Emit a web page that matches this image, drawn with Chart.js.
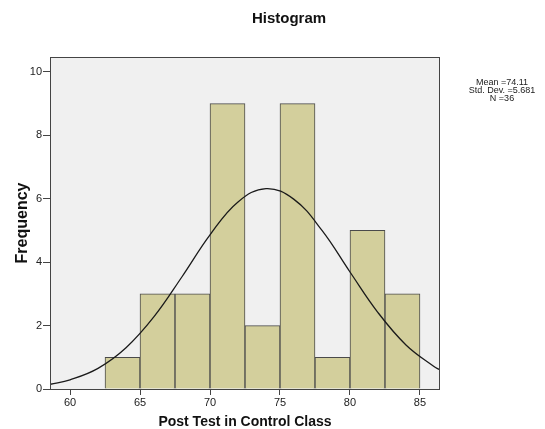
<!DOCTYPE html>
<html><head><meta charset="utf-8">
<script src="https://cdn.jsdelivr.net/npm/chart.js@4"></script>
<style>html,body{margin:0;padding:0;background:#fff}#wrap{width:545px;height:429px}</style>
</head><body><div id="wrap"><canvas id="c" width="545" height="429"></canvas></div>
<script>
const binCenters = [63.75, 66.25, 68.75, 71.25, 73.75, 76.25, 78.75, 81.25, 83.75];
const frequencies = [1, 3, 3, 9, 2, 9, 1, 5, 3];
const curveX = [58.6, 60, 62, 64, 66, 68, 70, 72, 74, 76, 78, 80, 82, 84, 86, 86.4];
const curveY = [0.15, 0.29, 0.65, 1.30, 2.28, 3.54, 4.86, 5.90, 6.32, 5.98, 5.00, 3.69, 2.41, 1.39, 0.71, 0.61];
const xTicks = [60, 65, 70, 75, 80, 85];
const yTicks = [0, 2, 4, 6, 8, 10];
const chartTitle = 'Histogram';
const statsLines = ['Mean =74.11', 'Std. Dev. =5.681', 'N =36'];

const FONT = '"Liberation Sans", Arial, sans-serif';
Chart.defaults.font.family = FONT;
Chart.defaults.color = '#222';

const frame = {
  id: 'frame',
  beforeDraw(chart) {
    const {ctx, chartArea: a} = chart;
    ctx.save();
    ctx.fillStyle = '#F0F0F0';
    ctx.fillRect(a.left, a.top, a.right - a.left, a.bottom - a.top);
    ctx.restore();
  },
  afterDraw(chart) {
    const {ctx, chartArea: a} = chart;
    ctx.save();
    ctx.strokeStyle = '#444';
    ctx.lineWidth = 1;
    ctx.strokeRect(a.left + 0.5, a.top + 0.5, a.right - a.left - 1, a.bottom - a.top);
    ctx.fillStyle = '#111';
    ctx.textAlign = 'center';
    ctx.textBaseline = 'middle';
    ctx.font = 'bold 15px ' + FONT;
    ctx.fillText(chartTitle, 289, 19);
    ctx.fillStyle = '#1a1a1a';
    ctx.font = '9px ' + FONT;
    statsLines.forEach((t, i) => ctx.fillText(t, 502, 83 + i * 8));
    ctx.restore();
  }
};

new Chart(document.getElementById('c'), {
  data: {
    datasets: [
      {
        type: 'line',
        data: curveX.map((x, i) => ({x, y: curveY[i]})),
        borderColor: '#1a1a1a',
        borderWidth: 1.3,
        pointRadius: 0,
        tension: 0.4,
        fill: false,
        order: 0
      },
      {
        type: 'bar',
        data: binCenters.map((x, i) => ({x, y: frequencies[i]})),
        backgroundColor: '#D3CF9C',
        borderColor: '#4a4a4a',
        borderWidth: 1,
        barPercentage: 1,
        categoryPercentage: 1,
        grouped: false,
        order: 1
      }
    ]
  },
  options: {
    responsive: false,
    animation: false,
    layout: {padding: {left: 0, right: 105, top: 57, bottom: 0}},
    plugins: {
      legend: {display: false},
      tooltip: {enabled: false},
      title: {display: false}
    },
    scales: {
      x: {
        type: 'linear', min: 58.57, max: 86.43, offset: false,
        afterBuildTicks: s => { s.ticks = xTicks.map(v => ({value: v})); },
        afterFit: s => { s.height = 40; },
        grid: {display: true, offset: false, drawOnChartArea: false, drawTicks: true, tickLength: 6, color: '#444'},
        border: {display: false},
        ticks: {font: {size: 11}, color: '#222', padding: 1, maxRotation: 0},
        title: {display: true, text: 'Post Test in Control Class', font: {size: 14, weight: 'bold', lineHeight: 1}, color: '#111', padding: {top: 6, bottom: 0}}
      },
      y: {
        type: 'linear', min: 0, max: 10.47,
        afterBuildTicks: s => { s.ticks = yTicks.map(v => ({value: v})); },
        afterFit: s => { s.width = 50; },
        grid: {display: true, drawOnChartArea: false, drawTicks: true, tickLength: 7, color: '#444'},
        border: {display: false},
        ticks: {font: {size: 11}, color: '#222', padding: 1},
        title: {display: true, text: 'Frequency', font: {size: 16, weight: 'bold', lineHeight: 1}, color: '#111', padding: {top: 15, bottom: 0}}
      }
    }
  },
  plugins: [frame]
});
</script></body></html>
